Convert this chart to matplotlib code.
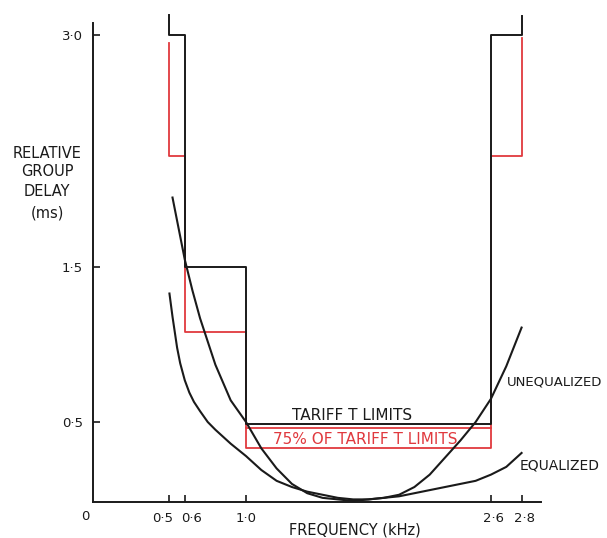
import matplotlib
matplotlib.use("Agg")
import matplotlib.pyplot as plt
from matplotlib.transforms import ScaledTranslation

# ---------------- data ----------------
freq_unequalized = [0.52, 0.55, 0.60, 0.65, 0.70, 0.80, 0.90, 1.00, 1.10, 1.20, 1.30,
                    1.40, 1.50, 1.60, 1.70, 1.80, 1.90, 2.00, 2.10, 2.20, 2.30, 2.40,
                    2.50, 2.60, 2.70, 2.80]
delay_unequalized = [1.95, 1.80, 1.55, 1.35, 1.17, 0.87, 0.64, 0.50, 0.33, 0.20, 0.10,
                     0.04, 0.01, 0.00, -0.01, 0.00, 0.01, 0.03, 0.08, 0.16, 0.27, 0.38,
                     0.50, 0.65, 0.86, 1.11]

freq_equalized = [0.50, 0.52, 0.55, 0.57, 0.60, 0.63, 0.66, 0.70, 0.75, 0.80, 0.90,
                  1.00, 1.10, 1.20, 1.30, 1.40, 1.50, 1.60, 1.70, 1.80, 1.90, 2.00,
                  2.10, 2.20, 2.30, 2.40, 2.50, 2.60, 2.70, 2.80]
delay_equalized = [1.33, 1.18, 0.98, 0.88, 0.77, 0.69, 0.63, 0.57, 0.50, 0.45, 0.36,
                   0.28, 0.19, 0.12, 0.08, 0.05, 0.03, 0.01, 0.00, 0.00, 0.01, 0.02,
                   0.04, 0.06, 0.08, 0.10, 0.12, 0.16, 0.21, 0.30]

tariff_freq = [0.5, 0.5, 0.6, 0.6, 1.0, 1.0, 2.6, 2.6, 2.8, 2.8]
tariff_delay = [3.13, 3.0, 3.0, 1.5, 1.5, 0.49, 0.49, 3.0, 3.0, 3.12]

tariff75_freq = [0.5, 0.5, 0.6, 0.6, 1.0, 1.0, 2.6, 2.6, 2.8, 2.8]
tariff75_delay = [2.95, 2.22, 2.22, 1.08, 1.08, 0.33, 0.33, 2.22, 2.22, 2.98]
box75_freq = [1.0, 2.6]
box75_delay = [0.46, 0.46]

ytick_values = [0.5, 1.5, 3.0]
ytick_labels = ["0·5", "1·5", "3·0"]
xtick_values = [0.5, 0.6, 1.0, 2.6, 2.8]
xtick_labels = ["0·5", "0·6", "1·0", "2·6", "2·8"]

# ---------------- layout ----------------
W, H = 607, 538
X0PX, XS = 92.9, 153.1      # pixel of x=0, pixels per kHz
Y0PX, YS = 499.4, 154.8     # pixel (from top) of y=0, pixels per ms
xlim = (0.0, 2.95)
ylim = (-0.017, 3.2)

FONT = ["DejaVu Sans"]
RED = "#e0393e"
BLACK = "#1a1a1a"

fig = plt.figure(figsize=(W / 100, H / 100), dpi=100)
bottom_py = Y0PX - ylim[0] * YS
top_py = Y0PX - ylim[1] * YS
ax = fig.add_axes([X0PX / W, 1 - bottom_py / H,
                   (xlim[1] - xlim[0]) * XS / W, (bottom_py - top_py) / H])
ax.set_xlim(*xlim)
ax.set_ylim(*ylim)

for s in ("top", "right"):
    ax.spines[s].set_visible(False)
ax.spines["left"].set_bounds(ylim[0], 3.08)
ax.spines["bottom"].set_bounds(0, 2.93)
for s in ("left", "bottom"):
    ax.spines[s].set_linewidth(1.4)
    ax.spines[s].set_color(BLACK)

# limits
ax.plot(tariff75_freq, tariff75_delay, color=RED, lw=1.3, clip_on=False, zorder=2)
ax.plot(box75_freq, box75_delay, color=RED, lw=1.3, clip_on=False, zorder=2)
ax.plot(tariff_freq, tariff_delay, color=BLACK, lw=1.4, clip_on=False, zorder=3)

# curves
ax.plot(freq_unequalized, delay_unequalized, color=BLACK, lw=1.5, clip_on=False, zorder=4)
ax.plot(freq_equalized, delay_equalized, color=BLACK, lw=1.5, clip_on=False, zorder=4)

# ticks
ax.set_yticks(ytick_values)
ax.set_yticklabels(ytick_labels, fontfamily=FONT, fontsize=9.5)
ax.set_xticks(xtick_values)
ax.set_xticklabels(xtick_labels, fontfamily=FONT, fontsize=9.5)
ax.tick_params(axis="both", direction="in", length=5, width=1.2, color=BLACK,
               labelcolor=BLACK)
ax.tick_params(axis="y", pad=7)
ax.tick_params(axis="x", pad=7)
shifts = {"0·5": -7, "0·6": 7, "2·6": 3, "2·8": 3}
for lab in ax.get_xticklabels():
    dx = shifts.get(lab.get_text(), 0)
    if dx:
        lab.set_transform(lab.get_transform() + ScaledTranslation(dx / 100, 0, fig.dpi_scale_trans))

ax.annotate("0", xy=(0, ylim[0]), xytext=(-8, -14), textcoords="offset pixels",
            ha="center", va="center", fontfamily=FONT, fontsize=9.5, color=BLACK)

# axis labels
def fig_text(px, py, s, **kw):
    fig.text(px / W, 1 - py / H, s, fontfamily=FONT, color=BLACK, **kw)

for txt, py in (("RELATIVE", 154), ("GROUP", 172), ("DELAY", 191), ("(ms)", 213)):
    fig_text(47, py, txt, ha="center", va="center", fontsize=10.5)
fig_text(355, 530, "FREQUENCY (kHz)", ha="center", va="center", fontsize=10.5)

# annotations
ax.text(1.69, 0.545, "TARIFF T LIMITS", ha="center", va="center",
        fontfamily=FONT, fontsize=11, color=BLACK)
ax.text(1.777, 0.39, "75% OF TARIFF T LIMITS", ha="center", va="center",
        fontfamily=FONT, fontsize=11, color=RED)
ax.text(2.705, 0.758, "UNEQUALIZED", ha="left", va="center",
        fontfamily=FONT, fontsize=9.5, color=BLACK, clip_on=False)
ax.text(2.79, 0.222, "EQUALIZED", ha="left", va="center",
        fontfamily=FONT, fontsize=10, color=BLACK, clip_on=False)

fig.savefig("out.png", dpi=100)
